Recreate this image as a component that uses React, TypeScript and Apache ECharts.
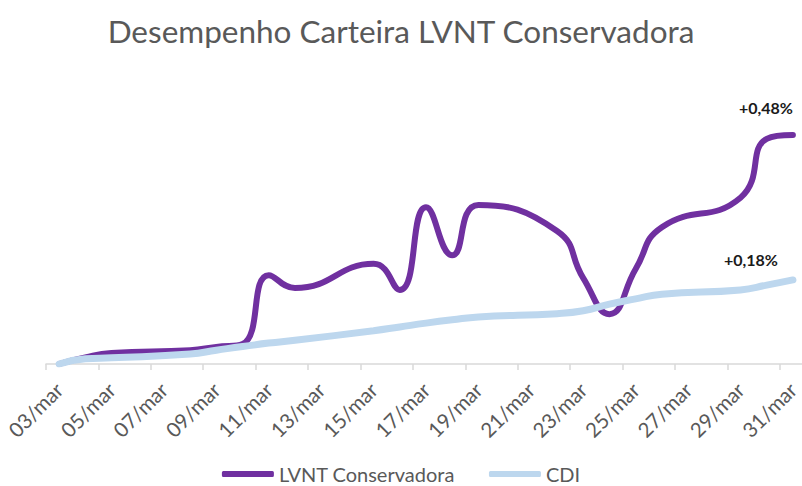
import React, { useEffect, useRef } from "react";
import * as echarts from "echarts";

const categories = [
  "03/mar", "04/mar", "05/mar", "06/mar", "07/mar", "08/mar", "09/mar", "10/mar",
  "11/mar", "12/mar", "13/mar", "14/mar", "15/mar", "16/mar", "17/mar", "18/mar",
  "19/mar", "20/mar", "21/mar", "22/mar", "23/mar", "24/mar", "25/mar", "26/mar",
  "27/mar", "28/mar", "29/mar", "30/mar", "31/mar",
];

// values in % (null = no quote that day)
const lvntValues: (number | null)[] = [
  0.0, 0.014, 0.023, null, null, 0.029, 0.036, 0.042,
  0.187, 0.16, null, null, 0.211, 0.156, 0.33, 0.229,
  0.335, null, null, 0.28, 0.181, 0.105, 0.2, 0.288,
  null, null, 0.35, 0.474, 0.482,
];

const cdiValues: (number | null)[] = [
  0.0, 0.011, 0.013, null, null, 0.021, 0.029, 0.037,
  0.044, 0.05, null, null, 0.07, 0.078, 0.086, 0.093,
  0.099, null, null, 0.106, 0.112, 0.126, 0.137, 0.147,
  null, null, 0.156, 0.166, 0.177,
];

const seriesNames = ["LVNT Conservadora", "CDI"];
const titleText = "Desempenho Carteira LVNT Conservadora";

const FONT = "Lato, 'Open Sans', sans-serif";

function fmt(v: number) {
  return "+" + v.toFixed(2).replace(".", ",") + "%";
}

function withEndLabel(values: (number | null)[], offset: number[]) {
  const last = values.length - 1;
  return values.map((v, i) =>
    i === last && v !== null
      ? {
          value: v,
          label: {
            show: true,
            position: "top",
            offset,
            formatter: () => fmt(v),
            fontFamily: FONT,
            fontSize: 16,
            fontWeight: "bold",
            color: "#1a1a1a",
          },
        }
      : v
  );
}

export default function App() {
  const ref = useRef<HTMLDivElement>(null);

  useEffect(() => {
    if (!ref.current) return;
    const chart = echarts.init(ref.current, undefined, { renderer: "svg" });
    chart.setOption({
      animation: false,
      backgroundColor: "#ffffff",
      title: {
        text: titleText,
        left: "center",
        top: 10,
        textStyle: {
          fontFamily: FONT,
          fontSize: 31.5,
          fontWeight: "normal",
          color: "#595959",
        },
      },
      legend: {
        data: seriesNames,
        left: "center",
        top: 459,
        icon: "roundRect",
        itemWidth: 52,
        itemHeight: 6,
        itemGap: 34,
        textStyle: { fontFamily: FONT, fontSize: 20, color: "#595959" },
      },
      grid: {
        left: 46,
        width: 760,
        top: 79,
        height: 285,
        outerBoundsMode: "none",
        containLabel: false,
      },
      xAxis: {
        type: "category",
        data: categories,
        boundaryGap: true,
        axisLine: { lineStyle: { color: "#d9d9d9", width: 1.5 } },
        axisTick: { show: true, interval: 1, length: 6, lineStyle: { color: "#d9d9d9", width: 1.5 } },
        axisLabel: {
          interval: 1,
          rotate: 45,
          margin: 22,
          fontFamily: FONT,
          fontSize: 20.5,
          color: "#595959",
        },
        splitLine: { show: false },
      },
      yAxis: {
        type: "value",
        min: 0,
        max: 0.6,
        show: false,
        splitLine: { show: false },
      },
      series: [
        {
          name: seriesNames[0],
          type: "line",
          data: withEndLabel(lvntValues, [-27, -14]),
          smooth: 0.5,
          connectNulls: true,
          showSymbol: true,
          symbol: "circle",
          symbolSize: 1,
          lineStyle: { color: "#7030A0", width: 6, cap: "round" },
          itemStyle: { color: "#7030A0" },
          z: 2,
        },
        {
          name: seriesNames[1],
          type: "line",
          data: withEndLabel(cdiValues, [-42, -7]),
          smooth: 0.5,
          connectNulls: true,
          showSymbol: true,
          symbol: "circle",
          symbolSize: 1,
          lineStyle: { color: "#BDD7EE", width: 7, cap: "round" },
          itemStyle: { color: "#BDD7EE" },
          z: 3,
        },
      ],
    });
    return () => chart.dispose();
  }, []);

  return (
    <div
      ref={ref}
      style={{ position: "fixed", left: 0, top: 0, width: 802, height: 486 }}
    />
  );
}
